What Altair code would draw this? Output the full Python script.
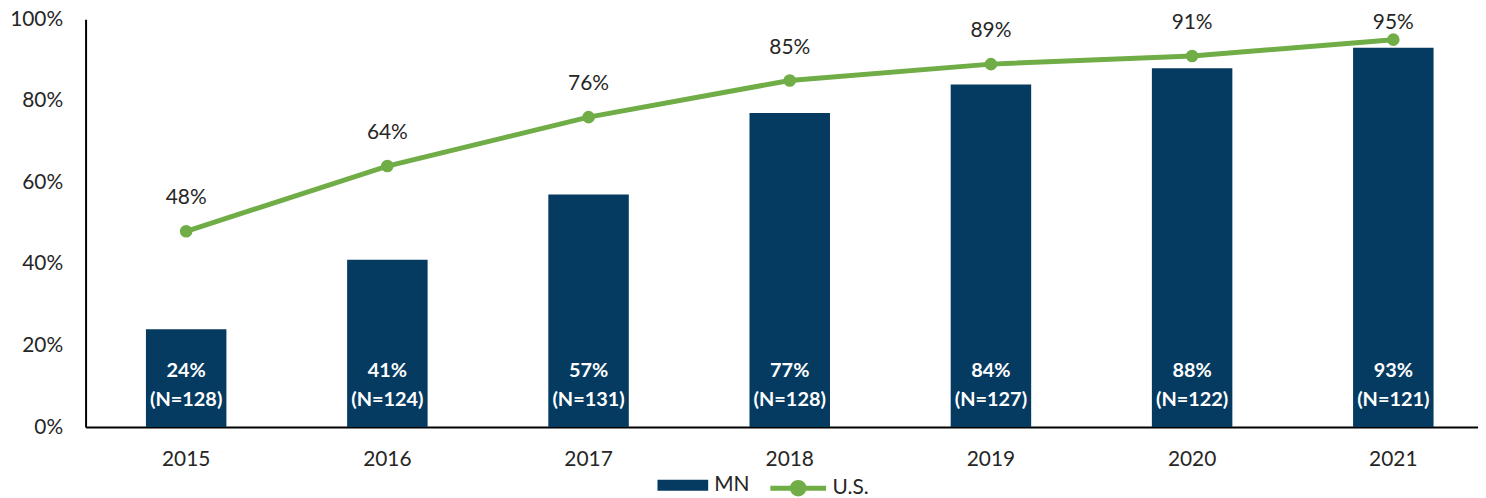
import altair as alt
import pandas as pd

years = ["2015", "2016", "2017", "2018", "2019", "2020", "2021"]
mn_values = [24, 41, 57, 77, 84, 88, 93]
n_sizes = [128, 124, 131, 128, 127, 122, 121]
us_values = [48, 64, 76, 85, 89, 91, 95]
y_ticks = [0, 20, 40, 60, 80, 100]

df = pd.DataFrame({"year": years, "mn": mn_values, "n": n_sizes, "us": us_values})
df["mn_label"] = df["mn"].astype(str) + "%"
df["n_label"] = "(N=" + df["n"].astype(str) + ")"
df["us_label"] = df["us"].astype(str) + "%"
df["mn_series"] = "MN"
df["us_series"] = "U.S."

NAVY = "#053A61"
GREEN = "#70AD47"
TXT = "#262626"
FONT = "Lato"

x_enc = alt.X(
    "year:N", sort=years,
    scale=alt.Scale(range=[0, 1416], paddingInner=0.6, paddingOuter=0.3),
    axis=alt.Axis(title=None, labelAngle=0, ticks=False, domainColor="black",
                  domainWidth=2, labelPadding=22, labelFontSize=21,
                  labelFont=FONT, labelColor=TXT),
)
y_scale = alt.Scale(domain=[0, 100], nice=False)
y_axis = alt.Axis(values=y_ticks, labelExpr="datum.value + '%'", title=None,
                  grid=False, ticks=False, domainColor="black", domainWidth=2,
                  labelPadding=23, labelFontSize=21, labelFont=FONT,
                  labelColor=TXT)

base = alt.Chart(df)

bars = base.mark_bar().encode(
    x=x_enc,
    y=alt.Y("mn:Q", scale=y_scale, axis=y_axis),
    fill=alt.Fill("mn_series:N", scale=alt.Scale(domain=["MN"], range=[NAVY]),
                  legend=alt.Legend(title=None, orient="none", legendX=575, legendY=443,
                                    symbolType="M-1,-0.216H1V0.216H-1Z", symbolSize=2601,
                                    symbolStrokeWidth=0, labelFont=FONT, labelFontSize=21,
                                    labelColor=TXT, labelOffset=6, padding=0)),
)

line = base.mark_line(strokeWidth=5).encode(
    x=x_enc,
    y=alt.Y("us:Q", scale=y_scale, axis=y_axis),
    stroke=alt.Stroke("us_series:N", scale=alt.Scale(domain=["U.S."], range=[GREEN]),
                      legend=alt.Legend(title=None, orient="none", legendX=686, legendY=441,
                                        symbolType="M-1,0H1M0.21,0A0.21,0.21 0 1,1 -0.21,0A0.21,0.21 0 1,1 0.21,0",
                                        symbolSize=3136, symbolStrokeWidth=5,
                                        symbolFillColor=GREEN, labelFont=FONT,
                                        labelFontSize=21, labelColor=TXT, labelOffset=4,
                                        padding=0)),
)

points = base.mark_circle(size=160, color=GREEN, opacity=1).encode(
    x=x_enc, y=alt.Y("us:Q", scale=y_scale, axis=y_axis)
)

us_text = base.transform_filter(alt.datum.year != "2021").mark_text(
    dy=-33, fontSize=21, font=FONT, color=TXT
).encode(x=x_enc, y=alt.Y("us:Q", scale=y_scale, axis=y_axis), text="us_label:N")

us_text_last = base.transform_filter(alt.datum.year == "2021").mark_text(
    dy=-17, fontSize=21, font=FONT, color=TXT
).encode(x=x_enc, y=alt.Y("us:Q", scale=y_scale, axis=y_axis), text="us_label:N")

mn_text = base.mark_text(dy=-56, fontSize=20, font=FONT, fontWeight="bold", color="white").encode(
    x=x_enc, y=alt.YDatum(0, scale=y_scale, axis=y_axis), text="mn_label:N"
)
n_text = base.mark_text(dy=-27, fontSize=20, font=FONT, fontWeight="bold", color="white").encode(
    x=x_enc, y=alt.YDatum(0, scale=y_scale, axis=y_axis), text="n_label:N"
)

chart = alt.layer(bars, line, points, us_text, us_text_last, mn_text, n_text).properties(
    width=1400, height=410, autosize="none",
    padding={"left": 78, "top": 10, "right": 0, "bottom": 70},
).configure_view(stroke=None)

chart.save("out.html", embed_options={"renderer": "svg", "actions": False})
